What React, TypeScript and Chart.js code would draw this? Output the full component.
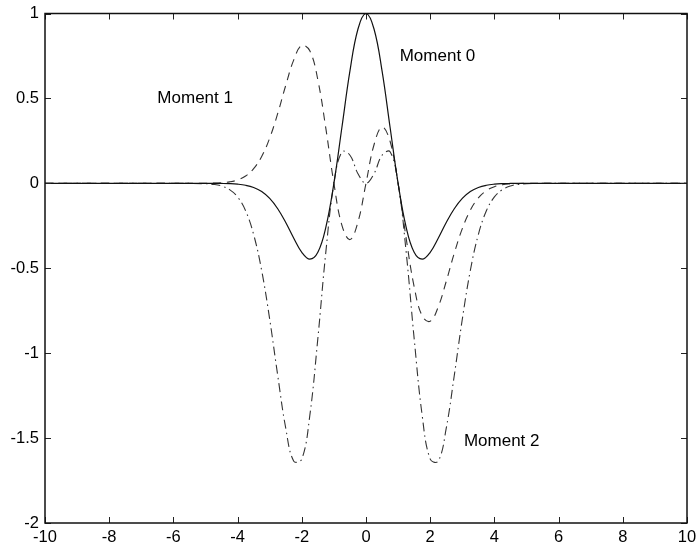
import React, { useEffect, useRef } from "react";
import { Chart, registerables } from "chart.js";

Chart.register(...registerables);

const xValues = [
  -10, -8, -6, -5, -4.75, -4.5, -4.25, -4, -3.75, -3.5, -3.25, -3, -2.75, -2.5, -2.25, -2, -1.75, -1.5, -1.25, -1,
  -0.75, -0.5, -0.25, 0, 0.25, 0.5, 0.75, 1, 1.25, 1.5, 1.75, 2, 2.25, 2.5, 2.75, 3, 3.25, 3.5, 3.75, 4, 4.25, 4.5,
  4.75, 5, 6, 8, 10,
];

const moment0 = [
  0, 0, 0, -0.0001, -0.0003, -0.0008, -0.002, -0.005, -0.0115, -0.0246, -0.0486, -0.0889, -0.1496, -0.2307, -0.3232,
  -0.406, -0.4461, -0.4058, -0.2575, 0, 0.3302, 0.6619, 0.9087, 1, 0.9087, 0.6619, 0.3302, 0, -0.2575, -0.4058,
  -0.4461, -0.406, -0.3232, -0.2307, -0.1496, -0.0889, -0.0486, -0.0246, -0.0115, -0.005, -0.002, -0.0008, -0.0003,
  -0.0001, 0, 0, 0,
];

const moment1 = [
  0, 0, 0, 0.0004, 0.0013, 0.0036, 0.0085, 0.02, 0.0431, 0.0861, 0.158, 0.2667, 0.4114, 0.5768, 0.7272, 0.812, 0.7807,
  0.6087, 0.3219, 0, -0.2477, -0.331, -0.2272, 0, 0.2272, 0.331, 0.2477, 0, -0.3219, -0.6087, -0.7807, -0.812, -0.7272,
  -0.5768, -0.4114, -0.2667, -0.158, -0.0861, -0.0431, -0.02, -0.0085, -0.0036, -0.0013, -0.0004, 0, 0, 0,
];

const moment2 = [
  0, 0, 0, -0.0022, -0.0061, -0.0156, -0.0369, -0.08, -0.1617, -0.3014, -0.5133, -0.8001, -1.1313, -1.4419, -1.6362,
  -1.624, -1.3662, -0.9131, -0.4023, 0, 0.1857, 0.1655, 0.0568, 0, 0.0568, 0.1655, 0.1857, 0, -0.4023, -0.9131,
  -1.3662, -1.624, -1.6362, -1.4419, -1.1313, -0.8001, -0.5133, -0.3014, -0.1617, -0.08, -0.0369, -0.0156, -0.0061,
  -0.0022, 0, 0, 0,
];

const seriesNames = ["Moment 0", "Moment 1", "Moment 2"];

const labelTexts = ["Moment 0", "Moment 1", "Moment 2"];
const labelX = [1.05, -6.5, 3.05];
const labelY = [0.75, 0.5, -1.52];

const xTicks = [-10, -8, -6, -4, -2, 0, 2, 4, 6, 8, 10];
const yTicks = [-2, -1.5, -1, -0.5, 0, 0.5, 1];

const FONT = "'Liberation Sans', Arial, Helvetica, sans-serif";

const boxPlugin = {
  id: "boxTicks",
  afterDatasetsDraw(chart: any) {
    const { ctx, chartArea } = chart;
    const xs = chart.scales.x;
    const ys = chart.scales.y;
    const L = chartArea.left;
    const R = chartArea.right;
    const T = chartArea.top;
    const B = chartArea.bottom;
    const len = 6;
    ctx.save();
    ctx.strokeStyle = "#222";
    ctx.lineWidth = 1;
    ctx.beginPath();
    xTicks.forEach((v) => {
      const p = Math.round(xs.getPixelForValue(v)) + 0.5;
      ctx.moveTo(p, B);
      ctx.lineTo(p, B - len);
      ctx.moveTo(p, T);
      ctx.lineTo(p, T + len);
    });
    yTicks.forEach((v) => {
      const p = Math.round(ys.getPixelForValue(v)) + 0.5;
      ctx.moveTo(L, p);
      ctx.lineTo(L + len, p);
      ctx.moveTo(R, p);
      ctx.lineTo(R - len, p);
    });
    ctx.stroke();
    ctx.lineWidth = 1.5;
    ctx.strokeStyle = "#111";
    ctx.strokeRect(L, T, R - L, B - T);
    ctx.fillStyle = "#000";
    ctx.font = `17px ${FONT}`;
    ctx.textAlign = "left";
    ctx.textBaseline = "middle";
    labelTexts.forEach((t, i) => {
      ctx.fillText(t, xs.getPixelForValue(labelX[i]), ys.getPixelForValue(labelY[i]));
    });
    ctx.restore();
  },
};

export default function App() {
  const ref = useRef<HTMLCanvasElement | null>(null);
  useEffect(() => {
    document.body.style.margin = "0";
    const mk = (arr: number[]) => xValues.map((x, i) => ({ x, y: arr[i] }));
    const chart = new Chart(ref.current as HTMLCanvasElement, {
      type: "line",
      data: {
        datasets: [
          {
            label: seriesNames[0],
            data: mk(moment0),
            borderColor: "#111",
            borderWidth: 1.2,
            pointRadius: 0,
            tension: 0.4,
          },
          {
            label: seriesNames[1],
            data: mk(moment1),
            borderColor: "#333",
            borderWidth: 1.1,
            borderDash: [8, 6],
            pointRadius: 0,
            tension: 0.4,
          },
          {
            label: seriesNames[2],
            data: mk(moment2),
            borderColor: "#333",
            borderWidth: 1.1,
            borderDash: [9, 4, 1.5, 4],
            pointRadius: 0,
            tension: 0.4,
          },
        ],
      },
      options: {
        animation: false,
        responsive: false,
        layout: { padding: { top: 13.5, right: 10, left: 0, bottom: 0 } },
        plugins: { legend: { display: false }, tooltip: { enabled: false } },
        scales: {
          x: {
            type: "linear",
            min: -10,
            max: 10,
            afterFit: (s: any) => {
              s.height = 21;
              s.paddingLeft = 0;
              s.paddingRight = 0;
              s.paddingTop = 0;
              s.paddingBottom = 0;
            },
            afterBuildTicks: (s: any) => {
              s.ticks = xTicks.map((v) => ({ value: v }));
            },
            grid: { display: false, drawTicks: false },
            border: { display: false },
            ticks: {
              color: "#000",
              font: { family: FONT, size: 16.5 },
              padding: 5,
              maxRotation: 0,
              autoSkip: false,
              callback: (v: any) => String(v),
            },
          },
          y: {
            type: "linear",
            min: -2,
            max: 1,
            afterFit: (s: any) => {
              s.width = 45;
              s.paddingLeft = 0;
              s.paddingRight = 0;
              s.paddingTop = 0;
              s.paddingBottom = 0;
            },
            afterBuildTicks: (s: any) => {
              s.ticks = yTicks.map((v) => ({ value: v }));
            },
            grid: { display: false, drawTicks: false },
            border: { display: false },
            ticks: {
              color: "#000",
              font: { family: FONT, size: 16.5 },
              padding: 6,
              autoSkip: false,
              callback: (v: any) => String(v),
            },
          },
        },
      },
      plugins: [boxPlugin],
    });
    return () => chart.destroy();
  }, []);
  return <canvas ref={ref} width={697} height={544} style={{ display: "block" }} />;
}
